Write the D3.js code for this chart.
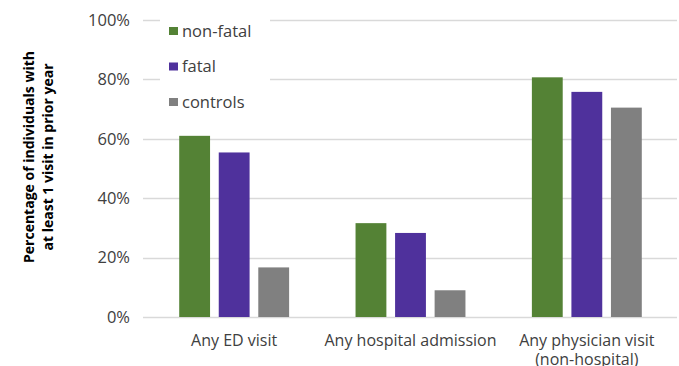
<!DOCTYPE html>
<html><head><meta charset="utf-8">
<script src="https://cdn.jsdelivr.net/npm/d3@7"></script>
<style>
body{margin:0;background:#fff;}
svg{display:block;font-family:"Open Sans","Noto Sans",sans-serif;}
</style></head>
<body><svg id="c" width="679" height="366"></svg>
<script>
const categories = ["Any ED visit", "Any hospital admission", "Any physician visit|(non-hospital)"];
const seriesNames = ["non-fatal", "fatal", "controls"];
const nonFatal = [0.61, 0.316, 0.807];
const fatal = [0.554, 0.283, 0.758];
const controls = [0.167, 0.09, 0.705];
const yTicks = [0, 0.2, 0.4, 0.6, 0.8, 1.0];
const colors = ["#548235", "#4f319c", "#808080"];
const series = [nonFatal, fatal, controls];

const svg = d3.select("#c");
const y = d3.scaleLinear().domain([0, 1]).range([317, 20]);
const x0 = d3.scaleBand().domain(categories).range([146, 675]);
const x1 = d3.scaleBand().domain(seriesNames).range([0, x0.bandwidth()]).paddingInner(0.22).paddingOuter(0.84);

// gridlines
svg.append("g").selectAll("line").data(yTicks).join("line")
  .attr("x1", 143).attr("x2", 677)
  .attr("y1", d => Math.round(y(d)) + 0.5).attr("y2", d => Math.round(y(d)) + 0.5)
  .attr("stroke", "#d9d9d9").attr("stroke-width", 1.3);

// y axis labels
const yAxis = d3.axisLeft(y).tickValues(yTicks).tickFormat(d3.format(".0%")).tickSize(0).tickPadding(0);
const ga = svg.append("g").attr("transform", "translate(130,0)").call(yAxis);
ga.select(".domain").remove();
ga.selectAll("text").attr("font-size", 16.5).attr("fill", "#404040").attr("font-family", "Open Sans, sans-serif");

// bars
const groups = svg.append("g").selectAll("g").data(categories).join("g")
  .attr("transform", d => `translate(${x0(d)},0)`);
groups.selectAll("rect").data((c, i) => seriesNames.map((s, j) => ({s, j, v: series[j][i]}))).join("rect")
  .attr("x", d => x1(d.s)).attr("width", x1.bandwidth())
  .attr("y", d => y(d.v)).attr("height", d => y(0) - y(d.v))
  .attr("fill", d => colors[d.j]);

// x labels
categories.forEach(c => {
  const lines = c.split("|");
  lines.forEach((l, i) => svg.append("text").attr("text-anchor", "middle").attr("font-size", 16)
    .attr("fill", "#404040").attr("x", x0(c) + x0.bandwidth() / 2).attr("y", 346 + i * 19).text(l));
});

// legend
svg.append("rect").attr("x", 160).attr("y", 12).attr("width", 110).attr("height", 112).attr("fill", "#fff");
const lg = svg.append("g").selectAll("g").data(seriesNames).join("g")
  .attr("transform", (d, i) => `translate(169,${31 + i * 35.5})`);
lg.append("rect").attr("x", 0).attr("y", -4).attr("width", 9).attr("height", 8).attr("fill", (d, i) => colors[i]);
lg.append("text").attr("x", 13).attr("y", 0).attr("dy", "0.35em").attr("font-size", 16.5).attr("fill", "#404040").text(d => d);

// y title
const yt = svg.append("g").attr("transform", "translate(0,157) rotate(-90)");
yt.append("text").attr("text-anchor", "middle").attr("font-size", 14).attr("font-weight", "bold").attr("fill", "#000")
  .attr("x", 0).attr("y", 34).text("Percentage of individuals with");
yt.append("text").attr("text-anchor", "middle").attr("font-size", 14).attr("font-weight", "bold").attr("fill", "#000")
  .attr("x", 0).attr("y", 53).text("at least 1 visit in prior year");
</script></body></html>
